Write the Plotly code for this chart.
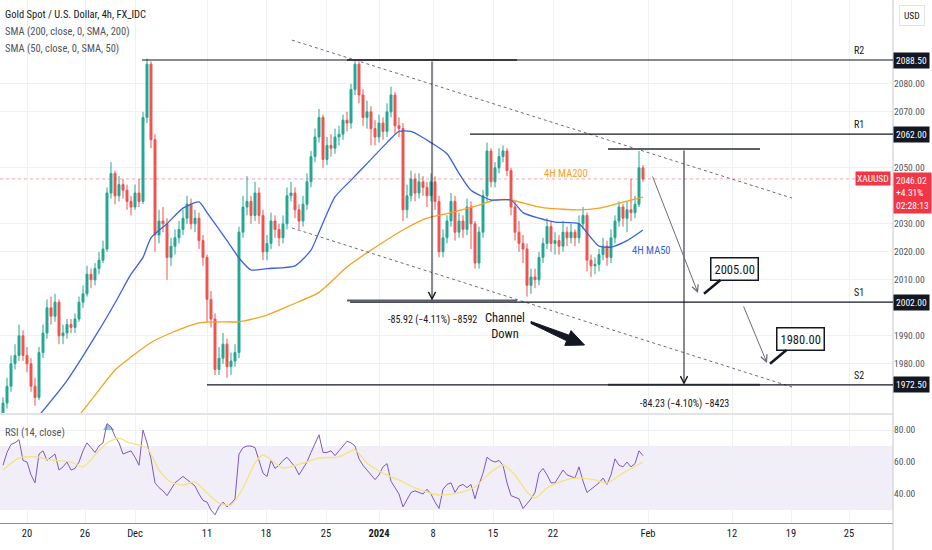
import plotly.graph_objects as go

# ---- 8h candles (x = bar index) ----
closes = [
    1966, 1972, 1980, 1983, 1990, 1983, 1980, 1972, 1968, 1984,
    1991, 2000, 1997, 2002, 1990, 1991, 1994, 1993, 1996, 2002,
    2005, 2012, 2010, 2014, 2017, 2021, 2041, 2048, 2040, 2044,
    2042, 2038, 2036, 2041, 2038, 2068, 2087, 2060, 2026, 2031,
    2030, 2018, 2022, 2025, 2028, 2032, 2037, 2030, 2032, 2024,
    2018, 2003, 1996, 1978, 1982, 1987, 1979, 1981, 1984, 2027,
    2036, 2038, 2033, 2041, 2033, 2020, 2023, 2031, 2028, 2025,
    2030, 2040, 2041, 2035, 2031, 2037, 2045, 2054, 2061, 2068,
    2053, 2058, 2057, 2061, 2062, 2067, 2066, 2078, 2087, 2076,
    2068, 2070, 2064, 2061, 2066, 2063, 2070, 2076, 2065, 2064,
    2035, 2040, 2046, 2041, 2045, 2043, 2040, 2045, 2038, 2020,
    2025, 2031, 2038, 2027, 2031, 2028, 2036, 2030, 2016, 2027,
    2040, 2056, 2045, 2050, 2054, 2056, 2049, 2036, 2027, 2023,
    2021, 2008, 2011, 2010, 2018, 2023, 2029, 2023, 2024, 2022,
    2027, 2025, 2027, 2025, 2030, 2033, 2017, 2015, 2015.5, 2019,
    2022, 2018, 2025, 2031, 2036, 2032, 2035, 2034, 2037, 2050,
    2046.02,
]
highs = [
    1968, 1975, 1983, 1987, 1994, 1992, 1986, 1982, 1975, 1986,
    1994, 2003, 2004, 2005, 2003, 1994, 1996, 1996, 1998, 2004,
    2008, 2015, 2014, 2016, 2020, 2024, 2043, 2052, 2049, 2047,
    2046, 2044, 2040, 2044, 2046, 2070, 2089, 2088, 2062, 2035,
    2036, 2032, 2025, 2028, 2031, 2035, 2040, 2039, 2035, 2034,
    2026, 2019, 2006, 1998, 1986, 1991, 1989, 1984, 1987, 2029,
    2040, 2047, 2040, 2045, 2043, 2035, 2026, 2034, 2033, 2030,
    2033, 2043, 2045, 2043, 2037, 2040, 2048, 2056, 2064, 2071,
    2069, 2061, 2062, 2064, 2065, 2069, 2070, 2080, 2088.5, 2088,
    2078, 2074, 2072, 2067, 2069, 2068, 2073, 2079, 2077, 2068,
    2066, 2044, 2049, 2048, 2048, 2047, 2045, 2048, 2047, 2040,
    2028, 2033, 2041, 2040, 2034, 2033, 2039, 2038, 2031, 2029,
    2042, 2059, 2057, 2052, 2057, 2058, 2057, 2050, 2038, 2031,
    2026, 2023, 2014, 2014, 2020, 2025, 2032, 2031, 2027, 2026,
    2031, 2029, 2030, 2028, 2033, 2036, 2034, 2019, 2018, 2021,
    2025, 2024, 2028, 2033, 2038, 2037, 2038, 2046, 2040, 2056,
    2051,
]
lows = [
    1960, 1964, 1970, 1978, 1981, 1981, 1977, 1970, 1965, 1967,
    1982, 1989, 1994, 1995, 1987, 1987, 1989, 1991, 1991, 1995,
    2000, 2004, 2007, 2008, 2012, 2016, 2020, 2039, 2037, 2038,
    2039, 2035, 2033, 2035, 2036, 2037, 2066, 2057, 2020, 2023,
    2027, 2010, 2015, 2019, 2023, 2026, 2030, 2028, 2027, 2021,
    2015, 1995, 1993, 1976, 1976, 1980, 1975, 1976, 1979, 1982,
    2025, 2033, 2030, 2031, 2030, 2017, 2017, 2021, 2025, 2022,
    2023, 2028, 2038, 2032, 2028, 2029, 2035, 2043, 2052, 2059,
    2050, 2051, 2054, 2055, 2058, 2060, 2063, 2064, 2076, 2073,
    2065, 2064, 2058, 2058, 2059, 2060, 2061, 2068, 2062, 2061,
    2031, 2032, 2038, 2038, 2039, 2040, 2036, 2038, 2035, 2018,
    2018, 2023, 2029, 2024, 2025, 2025, 2026, 2021, 2014, 2014,
    2025, 2038, 2043, 2043, 2048, 2052, 2047, 2033, 2024, 2020,
    2016, 2004, 2005, 2007, 2008, 2016, 2021, 2020, 2019, 2019,
    2020, 2022, 2023, 2022, 2023, 2028, 2013, 2011, 2012, 2013,
    2017, 2015, 2016, 2023, 2029, 2029, 2027, 2031, 2032, 2036,
    2045,
]
first_open = 1961
opens = [first_open] + closes[:-1]
bars = list(range(len(closes)))

# moving averages, sampled along the chart (bar index, price)
ma200_idx = [19, 24, 28, 32, 37, 42, 49, 53, 59, 66, 72, 79, 86, 92, 100, 106,
             112, 119, 123, 127, 132, 136, 144, 149, 154, 160]
ma200_val = [1961.5, 1970.6, 1977.8, 1982.4, 1987.6, 1991, 1994.6, 1995, 1995,
             1997.4, 2001, 2005.5, 2014.6, 2020.6, 2027.8, 2032, 2034, 2036.7,
             2038.5, 2038.5, 2036.7, 2035.6, 2035, 2035.6, 2037.4, 2039.5]
ma50_idx = [9, 16, 24, 28, 32, 35, 37, 41, 45, 49, 51, 56, 59, 62, 66, 73, 77,
            79, 83, 87, 92, 96, 99, 102, 107, 111, 114, 117, 122, 127, 130, 134,
            138, 144, 147, 149, 152, 156, 160]
ma50_val = [1961.5, 1974, 1992, 2001.7, 2012, 2018, 2025, 2030, 2035.6, 2037.8,
            2034, 2024, 2017.8, 2013.5, 2014, 2015, 2020.6, 2027, 2039.6, 2045.6,
            2053, 2059, 2063, 2063, 2059, 2055, 2048, 2042, 2038.5, 2038.5, 2034,
            2032, 2030.6, 2030, 2025, 2022, 2021.7, 2024, 2027.8]

# RSI(14) per candle and its moving average
rsi = [
    58, 66, 71, 72, 74, 61, 60, 52, 47, 65,
    67, 61, 63, 65, 55, 57, 60, 55, 56, 60,
    67, 72, 69, 66, 70, 72, 84, 82, 76, 72,
    65, 66, 67, 63, 58, 80, 72, 62, 47, 44,
    42, 39, 43, 47, 49, 51, 49, 47, 45, 40,
    36, 35, 30, 27, 32, 35, 32, 34, 37, 65,
    69, 70, 70, 69, 61, 53, 51, 61, 56, 58,
    61, 63, 60, 57, 52, 56, 60, 66, 71, 77,
    66, 66, 67, 64, 67, 70, 73, 72, 70, 62,
    58, 55, 52, 49, 52, 57, 59, 48, 44, 40,
    32, 37, 41, 42, 41, 40, 43, 40, 35, 31,
    43, 46, 47, 41, 45, 46, 44, 46, 37, 46,
    53, 63, 61, 60, 61, 58, 47, 39, 38, 37,
    31, 34, 37, 41, 53, 56, 52, 47, 47, 51,
    55, 52, 51, 50, 57, 48, 41, 43, 45, 47,
    50, 46, 52, 62, 58, 57, 60, 57, 59, 67,
    64,
]
rsima_idx = [0, 4, 8, 12, 17, 20, 23, 26, 29, 31, 36, 39, 42, 45, 48, 51, 54, 57,
             60, 63, 65, 68, 70, 75, 79, 84, 88, 91, 95, 99, 103, 109, 115, 118,
             122, 125, 128, 131, 133, 136, 139, 143, 148, 151, 155, 160]
rsima_val = [55, 62.5, 63.3, 61.3, 60, 57, 64.4, 71.9, 75, 72.5, 68.8, 55, 47.5,
             45.6, 47.5, 40.6, 34.4, 33.1, 43.8, 59.4, 64.4, 59.4, 56.3, 59.4,
             62.5, 63.3, 67.5, 59.4, 53.1, 48.8, 43.8, 39.4, 41.3, 44.4, 53.8, 58,
             51.9, 41.3, 37.5, 43.8, 47.5, 50, 48.8, 46.9, 53.1, 60]

tick_text = ["20", "26", "Dec", "11", "18", "25", "<b>2024</b>", "8", "15", "22",
             "Feb", "12", "19", "25"]
tick_bar = [6, 20.5, 33, 51, 65.75, 80.75, 94, 107.5, 122.5, 137.5, 161.25,
            182.25, 197, 211.5]
# price ticks left visible (the others sit under the level / last-price boxes)
price_ticks = [1980, 1990, 2010, 2020, 2030, 2050, 2070, 2080]
rsi_ticks = [40, 60, 80]

level_names = ["R2", "R1", "S1", "S2"]
level_prices = [2088.5, 2062.0, 2002.0, 1972.5]
level_from = [34.75, 116.75, 86.75, 51.0]

range_top = [2088.5, 2056.73]
range_change = [-85.92, -84.23]
range_pct = [-4.11, -4.10]
range_left = [86.0, 151.25]
range_right = [128.5, 189.25]

target_text = ["2005.00", "1980.00"]
target_price = [2005.0, 1980.0]
target_bar = [175.25, 191.75]

change_pct = 4.31
countdown = "02:28:13"

# ---- styling ----
FONT = "Liberation Sans Narrow, Arial Narrow, Roboto Condensed, DejaVu Sans Condensed, Liberation Sans, sans-serif"
UP, DOWN = "#22a892", "#ef5350"
INK = "#131722"
AXIS_TXT = "#50535e"
GRID = "#eef1f6"
X_MAX = 222.5
P_LO, P_HI = 1962.43, 2109.93


def bx(px):
    # chart pixel column -> bar index (for drawings)
    return (px - 3) / 4


def pr(py):
    # chart pixel row -> price (for drawings)
    return 2088.5 - (py - 60) / 2.8


fig = go.Figure()
fig.add_trace(go.Candlestick(
    x=bars, open=opens, high=highs, low=lows, close=closes,
    increasing=dict(line=dict(color=UP, width=1), fillcolor=UP),
    decreasing=dict(line=dict(color=DOWN, width=1), fillcolor=DOWN),
    whiskerwidth=0, showlegend=False, hoverinfo="skip"))
fig.add_trace(go.Scatter(x=ma200_idx, y=ma200_val, mode="lines",
                         line=dict(color="#f5a21f", width=1.3, shape="spline", smoothing=0.6),
                         showlegend=False, hoverinfo="skip"))
fig.add_trace(go.Scatter(x=ma50_idx, y=ma50_val, mode="lines",
                         line=dict(color="#3b63d9", width=1.3, shape="spline", smoothing=0.6),
                         showlegend=False, hoverinfo="skip"))

# RSI overbought fill (above 80) then RSI and its average
fig.add_trace(go.Scatter(x=bars, y=[80] * len(bars), mode="lines", xaxis="x", yaxis="y2",
                         line=dict(width=0), showlegend=False, hoverinfo="skip"))
fig.add_trace(go.Scatter(x=bars, y=[max(v, 80) for v in rsi], mode="lines", xaxis="x",
                         yaxis="y2", line=dict(width=0), fill="tonexty",
                         fillcolor="rgba(38,166,154,0.55)", showlegend=False, hoverinfo="skip"))
fig.add_trace(go.Scatter(x=bars, y=rsi, mode="lines", xaxis="x", yaxis="y2",
                         line=dict(color="#7e57c2", width=1),
                         showlegend=False, hoverinfo="skip"))
fig.add_trace(go.Scatter(x=rsima_idx, y=rsima_val, mode="lines", xaxis="x", yaxis="y2",
                         line=dict(color="#f3e47c", width=1.3, shape="spline", smoothing=0.7),
                         showlegend=False, hoverinfo="skip"))

shapes = []
annotations = []

# RSI band and pane frame
shapes.append(dict(type="rect", xref="paper", x0=0, x1=1, yref="y2", y0=30, y1=70,
                   fillcolor="rgba(126,87,194,0.1)", line=dict(width=0), layer="below"))
shapes.append(dict(type="line", xref="paper", x0=0, x1=1, yref="paper",
                   y0=1 - 414 / 550, y1=1 - 414 / 550, line=dict(color="#c5c8cf", width=1)))
shapes.append(dict(type="line", xref="paper", x0=1, x1=1, yref="paper", y0=0, y1=1,
                   line=dict(color="#c5c8cf", width=1)))

# current price line
shapes.append(dict(type="line", xref="paper", x0=0, x1=1, yref="y",
                   y0=closes[-1], y1=closes[-1],
                   line=dict(color="rgba(242,54,69,0.45)", width=1, dash="dot")))

# channel (dotted)
for p0, p1 in [(2095.6, 2039.2), (2028.5, 1971.7)]:
    shapes.append(dict(type="line", xref="x", yref="y", x0=bx(292), x1=bx(792),
                       y0=p0, y1=p1, line=dict(color="#6a6d78", width=1, dash="dot")))

# price range tools
for top, chg, pct, l, r in zip(range_top, range_change, range_pct, range_left, range_right):
    bot = top + chg
    mid = (l + r) / 2
    shapes.append(dict(type="line", xref="x", yref="y", x0=l, x1=r, y0=top, y1=top,
                       line=dict(color="#5d606b", width=2)))
    shapes.append(dict(type="line", xref="x", yref="y", x0=l, x1=r, y0=bot, y1=bot,
                       line=dict(color="#5d606b", width=2)))
    annotations.append(dict(x=mid, y=bot, ax=mid, ay=top, xref="x", yref="y",
                            axref="x", ayref="y", text="", showarrow=True,
                            arrowhead=5, arrowsize=1.4, arrowwidth=1, arrowcolor=INK))
    label = f"{chg:.2f} ({pct:.2f}%) {int(round(chg * 100))}".replace("-", "\u2212", 3)
    label = "-" + label[1:]
    annotations.append(dict(x=mid, y=bot - 7, xref="x", yref="y", text=label,
                            showarrow=False, font=dict(size=10, color=INK)))

# support / resistance levels
for name, p, x0 in zip(level_names, level_prices, level_from):
    shapes.append(dict(type="line", xref="x", yref="y", x0=x0, x1=X_MAX, y0=p, y1=p,
                       line=dict(color=INK, width=1.2)))
    annotations.append(dict(xref="paper", x=866 / 893, xanchor="right", yref="y", y=p,
                            yanchor="bottom", yshift=2, text=name, showarrow=False,
                            font=dict(size=10, color=INK)))
    annotations.append(dict(xref="paper", x=1, xanchor="left", yref="y", y=p,
                            text=f"{p:.2f}", showarrow=False, bgcolor=INK, borderpad=2,
                            font=dict(size=9.5, color="white")))

# projected path arrows
for (xa, pa), (xb, pb) in [((bx(652), pr(175)), (bx(698), pr(293))),
                          ((bx(743), pr(305)), (bx(767), pr(363)))]:
    annotations.append(dict(x=xb, y=pb, ax=xa, ay=pa, xref="x", yref="y",
                            axref="x", ayref="y", text="", showarrow=True,
                            arrowhead=5, arrowsize=1.3, arrowwidth=1, arrowcolor="#6a6d78"))

# target callouts
for t, p, xb_ in zip(target_text, target_price, target_bar):
    annotations.append(dict(x=xb_, y=p, xref="x", yref="y", ax=30, ay=-25, text=t,
                            showarrow=True, arrowhead=0, arrowwidth=2.5, arrowcolor=INK,
                            bgcolor="white", bordercolor=INK, borderwidth=1.5, borderpad=3,
                            font=dict(size=12.5, color=INK)))

# channel label and big arrow
annotations.append(dict(x=bx(505), y=pr(325), xref="x", yref="y",
                        text="Channel<br>Down", showarrow=False, align="center",
                        font=dict(size=12.5, color=INK)))
wedge = [(531, 321.5), (569.1, 335.2), (571, 330.6), (584.5, 345), (564.8, 345.4),
         (566.7, 340.8), (531, 323.5)]
path = "M " + " L ".join(f"{bx(a):.3f},{pr(b):.3f}" for a, b in wedge) + " Z"
shapes.append(dict(type="path", xref="x", yref="y", path=path, fillcolor=INK,
                   line=dict(color=INK, width=1)))

# MA labels
annotations.append(dict(x=bx(566), y=pr(173), xref="x", yref="y", text="4H MA200",
                        showarrow=False, font=dict(size=10.5, color="#f5a21f")))
annotations.append(dict(x=bx(651), y=pr(250), xref="x", yref="y", text="4H MA50",
                        showarrow=False, font=dict(size=10.5, color="#3b63d9")))

# last price boxes
annotations.append(dict(xref="paper", x=1, xanchor="right", xshift=-2, yref="y",
                        y=closes[-1], text="XAUUSD", showarrow=False, bgcolor="#f23645",
                        borderpad=1, font=dict(size=9.5, color="white")))
annotations.append(dict(xref="paper", x=1, xanchor="left", yref="y", y=closes[-1],
                        yanchor="top", yshift=7, align="left",
                        text=f"{closes[-1]:.2f}<br>+{change_pct:.2f}%<br>{countdown}",
                        showarrow=False, bgcolor="#f23645", borderpad=2,
                        font=dict(size=9.5, color="white")))

# legend texts
for i, (txt, col) in enumerate([("Gold Spot / U.S. Dollar, 4h, FX_IDC", INK),
                                ("SMA (200, close, 0, SMA, 200)", AXIS_TXT),
                                ("SMA (50, close, 0, SMA, 50)", AXIS_TXT)]):
    annotations.append(dict(xref="paper", yref="paper", x=3 / 893, y=1 - (15 + 16.5 * i) / 550,
                            xanchor="left", yanchor="middle", text=txt, showarrow=False,
                            font=dict(size=10.5, color=col)))
annotations.append(dict(xref="paper", yref="paper", x=3 / 893, y=1 - 432 / 550,
                        xanchor="left", yanchor="middle", text="RSI (14, close)",
                        showarrow=False, font=dict(size=10.5, color=AXIS_TXT)))
annotations.append(dict(xref="paper", yref="paper", x=912 / 893, y=1 - 16 / 550,
                        xanchor="center", yanchor="middle", text="USD",
                        showarrow=False, bordercolor="#e0e3eb", borderwidth=1, borderpad=4,
                        font=dict(size=9.5, color=INK)))

fig.update_layout(
    width=932, height=550,
    margin=dict(l=0, r=39, t=0, b=0),
    paper_bgcolor="white", plot_bgcolor="white",
    font=dict(family=FONT, size=11, color=INK),
    showlegend=False,
    xaxis=dict(domain=[0, 1], anchor="y2", range=[-0.75, X_MAX],
               tickvals=tick_bar, ticktext=tick_text, ticks="",
               showgrid=True, gridcolor=GRID, zeroline=False,
               showline=True, linecolor="#8a8d96", linewidth=1,
               tickfont=dict(size=10.5, color=INK),
               rangeslider=dict(visible=False), fixedrange=True),
    yaxis=dict(domain=[1 - 413 / 550, 1], anchor="x", side="right",
               range=[P_LO, P_HI], tickvals=price_ticks, tickformat=".2f",
               showgrid=True, gridcolor=GRID, zeroline=False, ticks="",
               tickfont=dict(size=9.5, color=AXIS_TXT), automargin=False),
    yaxis2=dict(domain=[1 - 523 / 550, 1 - 415 / 550], anchor="x", side="right",
                range=[21.9, 89.4], tickvals=rsi_ticks, tickformat=".2f",
                showgrid=True, gridcolor=GRID, zeroline=False, ticks="",
                tickfont=dict(size=9.5, color=AXIS_TXT), automargin=False),
    shapes=shapes,
    annotations=annotations,
)

# drop the browser's default page margin so the chart sits at the window's corner
fig.write_html("out.html", config={"displayModeBar": False},
               post_script="document.body.style.margin='0px';")
